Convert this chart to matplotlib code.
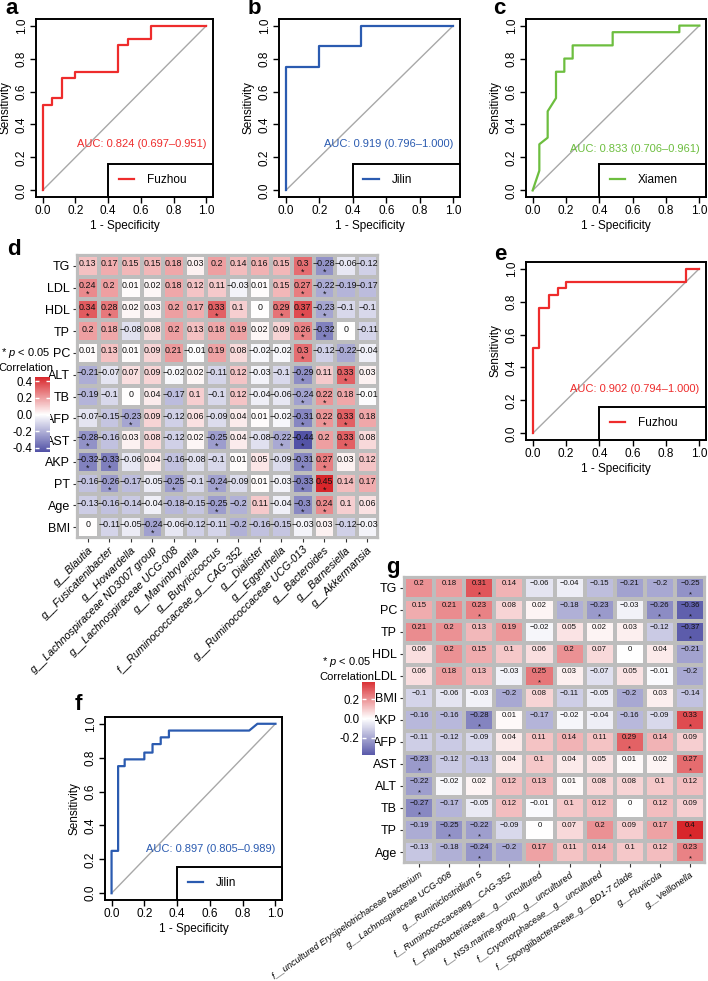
import numpy as np
import matplotlib
matplotlib.use('Agg')
import matplotlib.pyplot as plt
from matplotlib.colors import LinearSegmentedColormap, Normalize
from matplotlib.cm import ScalarMappable

plt.rcParams['font.family'] = ['Liberation Sans', 'DejaVu Sans']
plt.rcParams['mathtext.fontset'] = 'custom'
plt.rcParams['mathtext.it'] = 'Liberation Sans:italic'
plt.rcParams['mathtext.rm'] = 'Liberation Sans'

# ROC curves (1 - specificity, sensitivity)
fz_train_fpr = [0, 0, 0.06, 0.06, 0.12, 0.12, 0.2, 0.2, 0.46, 0.46, 0.52, 0.52, 0.66, 0.66, 1]
fz_train_tpr = [0, 0.52, 0.52, 0.56, 0.56, 0.68, 0.68, 0.72, 0.72, 0.88, 0.88, 0.92, 0.92, 1, 1]
jl_train_fpr = [0, 0, 0.2, 0.2, 0.45, 0.45, 1]
jl_train_tpr = [0, 0.75, 0.75, 0.875, 0.875, 1, 1]
xm_fpr = [0, 0.04, 0.04, 0.09, 0.09, 0.14, 0.14, 0.19, 0.19, 0.24, 0.24, 0.48, 0.48, 0.88, 0.88, 1]
xm_tpr = [0, 0.12, 0.28, 0.32, 0.48, 0.56, 0.72, 0.72, 0.8, 0.8, 0.88, 0.88, 0.96, 0.96, 1, 1]
fz_fpr = [0, 0, 0.04, 0.04, 0.1, 0.1, 0.15, 0.15, 0.2, 0.2, 0.92, 0.92, 1]
fz_tpr = [0, 0.52, 0.52, 0.76, 0.76, 0.84, 0.84, 0.88, 0.88, 0.92, 0.92, 1, 1]
jl_fpr = [0, 0, 0.04, 0.04, 0.08, 0.08, 0.2, 0.2, 0.25, 0.25, 0.3, 0.3, 0.35, 0.35, 0.84, 0.89, 1]
jl_tpr = [0, 0.25, 0.25, 0.75, 0.75, 0.79, 0.79, 0.83, 0.83, 0.88, 0.88, 0.92, 0.92, 0.96, 0.96, 1, 1]

# heatmap d
d_rows = ['TG', 'LDL', 'HDL', 'TP', 'PC', 'ALT', 'TB', 'AFP', 'AST', 'AKP', 'PT', 'Age', 'BMI']
d_cols = ['g__Blautia', 'g__Fusicatenibacter', 'g__Howardella', 'g__Lachnospiraceae ND3007 group',
          'g__Lachnospiraceae UCG-008', 'g__Marvinbryantia', 'g__Butyricicoccus',
          'f__Ruminococcaceae_g__CAG-352', 'g__Dialister', 'g__Eggerthella',
          'g__Ruminococcaceae UCG-013', 'g__Bacteroides', 'g__Barnesiella', 'g__Akkermansia']
d_vals = [
    [0.13, 0.17, 0.15, 0.15, 0.18, 0.03, 0.2, 0.14, 0.16, 0.15, 0.3, -0.28, -0.06, -0.12],
    [0.24, 0.2, 0.01, 0.02, 0.18, 0.12, 0.11, -0.03, 0.01, 0.15, 0.27, -0.22, -0.19, -0.17],
    [0.34, 0.28, 0.02, 0.03, 0.2, 0.17, 0.33, 0.1, 0, 0.29, 0.37, -0.23, -0.1, -0.1],
    [0.2, 0.18, -0.08, 0.08, 0.2, 0.13, 0.18, 0.19, 0.02, 0.09, 0.26, -0.32, 0, -0.11],
    [0.01, 0.13, 0.01, 0.09, 0.21, -0.01, 0.19, 0.08, -0.02, -0.02, 0.3, -0.12, -0.22, -0.04],
    [-0.21, -0.07, 0.07, 0.09, -0.02, 0.02, -0.11, 0.12, -0.03, -0.1, -0.29, 0.11, 0.33, 0.03],
    [-0.19, -0.1, 0, 0.04, -0.17, 0.1, -0.1, 0.12, -0.04, -0.06, -0.24, 0.22, 0.18, -0.01],
    [-0.07, -0.15, -0.23, 0.09, -0.12, 0.06, -0.09, 0.04, 0.01, -0.02, -0.31, 0.22, 0.33, 0.18],
    [-0.28, -0.16, 0.03, 0.08, -0.12, 0.02, -0.25, 0.04, -0.08, -0.22, -0.44, 0.2, 0.33, 0.08],
    [-0.32, -0.33, -0.06, 0.04, -0.16, -0.08, -0.1, 0.01, 0.05, -0.09, -0.31, 0.27, 0.03, 0.12],
    [-0.16, -0.26, -0.17, -0.05, -0.25, -0.1, -0.24, -0.09, 0.01, -0.03, -0.33, 0.45, 0.14, 0.17],
    [-0.13, -0.16, -0.14, -0.04, -0.18, -0.15, -0.25, -0.2, 0.11, -0.04, -0.3, 0.24, 0.1, 0.06],
    [0, -0.11, -0.05, -0.24, -0.06, -0.12, -0.11, -0.2, -0.16, -0.15, -0.03, 0.03, -0.12, -0.03],
]
d_stars = [[10, 11], [0, 10, 11], [0, 1, 6, 9, 10, 11], [10, 11], [10], [10, 12], [10, 11],
           [2, 10, 11, 12], [0, 6, 9, 10, 12], [0, 1, 10, 11], [1, 4, 6, 10, 11], [6, 10, 11], [3]]

# heatmap g
g_rows = ['TG', 'PC', 'TP', 'HDL', 'LDL', 'BMI', 'AKP', 'AFP', 'AST', 'ALT', 'TB', 'TP', 'Age']
g_cols = ['f__uncultured Erysipelotrichaceae bacterium', 'g__Lachnospiraceae UCG-008',
          'g__Ruminiclostridium 5', 'f__Ruminococcaceaeg__CAG-352',
          'f__Flavobacteriaceae__g__uncultured', 'f__NS9.marine.group__g__uncultured',
          'f__Cryomorphaceae__g__uncultured', 'f__Spongiibacteraceae_g__BD1-7 clade',
          'g__Fluviicola', 'g__Veillonella']
g_vals = [
    [0.2, 0.18, 0.31, 0.14, -0.06, -0.04, -0.15, -0.21, -0.2, -0.25],
    [0.15, 0.21, 0.23, 0.08, 0.02, -0.18, -0.23, -0.03, -0.26, -0.36],
    [0.21, 0.2, 0.13, 0.19, -0.02, 0.05, 0.02, 0.03, -0.12, -0.37],
    [0.06, 0.2, 0.15, 0.1, 0.06, 0.2, 0.07, 0, 0.04, -0.21],
    [0.06, 0.18, 0.13, -0.03, 0.25, 0.03, -0.07, 0.05, -0.01, -0.2],
    [-0.1, -0.06, -0.03, -0.2, 0.08, -0.11, -0.05, -0.2, 0.03, -0.14],
    [-0.16, -0.16, -0.28, 0.01, -0.17, -0.02, -0.04, -0.16, -0.09, 0.33],
    [-0.11, -0.12, -0.09, 0.04, 0.11, 0.14, 0.11, 0.29, 0.14, 0.09],
    [-0.23, -0.12, -0.13, 0.04, 0.1, 0.04, 0.05, 0.01, 0.02, 0.27],
    [-0.22, -0.02, 0.02, 0.12, 0.13, 0.01, 0.08, 0.08, 0.1, 0.12],
    [-0.27, -0.17, -0.05, 0.12, -0.01, 0.1, 0.12, 0, 0.12, 0.09],
    [-0.19, -0.25, -0.22, -0.09, 0, 0.07, 0.2, 0.09, 0.17, 0.4],
    [-0.13, -0.18, -0.24, -0.2, 0.17, 0.11, 0.14, 0.1, 0.12, 0.23],
]
g_stars = [[2, 9], [2, 6, 8, 9], [9], [], [4], [], [2, 9], [7], [0, 9], [0], [0], [1, 2, 9], [2, 9]]

W, H = 708, 981
fig = plt.figure(figsize=(W / 100, H / 100), dpi=100)
cmap = LinearSegmentedColormap.from_list('rwb', ['#5050A5', '#FFFFFF', '#D8262B'])


def rect(x0, y0, x1, y1):
    return [x0 / W, 1 - y1 / H, (x1 - x0) / W, (y1 - y0) / H]


def roc_panel(box, fpr, tpr, color, name, auc_txt, auc_y):
    ax = fig.add_axes(rect(*box))
    ax.plot([0, 1], [0, 1], color='#A8A8A8', lw=1)
    line, = ax.plot(fpr, tpr, color=color, lw=1.6)
    ax.set_xlim(-0.04, 1.04)
    ax.set_ylim(-0.04, 1.04)
    ticks = [0, 0.2, 0.4, 0.6, 0.8, 1.0]
    ax.set_xticks(ticks)
    ax.set_yticks(ticks)
    ax.set_xticklabels(['%.1f' % t for t in ticks])
    ax.set_yticklabels(['%.1f' % t for t in ticks], rotation=90, va='center')
    ax.tick_params(direction='out', length=4, width=1, labelsize=8.5, pad=2)
    for s in ax.spines.values():
        s.set_linewidth(1.4)
    ax.set_xlabel('1 - Specificity', fontsize=8.5, labelpad=2)
    ax.set_ylabel('Sensitivity', fontsize=8.5, labelpad=3)
    ax.text(1.0, auc_y, auc_txt, color=color, ha='right', va='center', fontsize=8)
    leg = ax.legend([line], [name], loc='lower left', bbox_to_anchor=(0.407, 0, 0.593, 0.2),
                    mode='expand', borderaxespad=0, fancybox=False, edgecolor='black',
                    framealpha=1, fontsize=8.5, borderpad=0.9, handlelength=1.3,
                    handletextpad=1.1)
    leg.get_frame().set_linewidth(1.4)
    return ax


def fmt(v):
    return ('%g' % v).replace('-', '\u2212')


def heat_panel(box, vals, stars, rows, cols, vmax, fs, rot, lab_fs, ty):
    ax = fig.add_axes(rect(*box))
    arr = np.array(vals)
    nr, nc = arr.shape
    ax.pcolormesh(np.arange(nc + 1), np.arange(nr + 1), arr, cmap=cmap, vmin=-vmax, vmax=vmax,
                  edgecolors='#BDBDBD', linewidth=1.6)
    ax.set_xlim(0, nc)
    ax.set_ylim(nr, 0)
    for i in range(nr):
        for j in range(nc):
            ax.text(j + 0.5, i + ty, fmt(arr[i, j]), ha='center', va='center', fontsize=fs,
                    color='#111111')
            if j in stars[i]:
                ax.text(j + 0.5, i + 0.8, '*', ha='center', va='center', fontsize=fs,
                        color='#111111')
    ax.set_yticks(np.arange(nr) + 0.5)
    ax.set_yticklabels(rows, fontsize=9)
    ax.set_xticks(np.arange(nc) + 0.5)
    ax.set_xticklabels(cols, rotation=rot, ha='right', rotation_mode='anchor', style='italic',
                       fontsize=lab_fs)
    ax.tick_params(length=3, color='#333333', pad=2)
    for s in ax.spines.values():
        s.set_color('#BDBDBD')
        s.set_linewidth(1.6)
    return ax


def colorbar(box, vmax, lim, ticks, title_x, title_y):
    cax = fig.add_axes(rect(*box))
    cb = fig.colorbar(ScalarMappable(norm=Normalize(-vmax, vmax), cmap=cmap), cax=cax)
    cb.outline.set_visible(False)
    cax.set_ylim(-lim, lim)
    cax.yaxis.set_ticks_position('both')
    cax.set_yticks(ticks)
    cax.set_yticklabels(['%.1f' % t if t != 0 else '0.0' for t in ticks])
    cax.yaxis.set_tick_params(labelleft=True, labelright=False)
    cax.tick_params(color='white', direction='in', length=3, width=1, labelsize=8.3, pad=2)
    fig.text(title_x / W, 1 - title_y / H, '* $p$ < 0.05', ha='center', va='center', fontsize=8)
    fig.text(title_x / W, 1 - (title_y + 15) / H, 'Correlation', ha='center', va='center',
             fontsize=8)


roc_panel((36, 19, 213, 197), fz_train_fpr, fz_train_tpr, '#EE2C2C', 'Fuzhou',
          'AUC: 0.824 (0.697\u20130.951)', 0.28)
roc_panel((279, 19, 460, 197), jl_train_fpr, jl_train_tpr, '#2B5BB0', 'Jilin',
          'AUC: 0.919 (0.796\u20131.000)', 0.28)
roc_panel((526, 19, 706, 197), xm_fpr, xm_tpr, '#6DBE3F', 'Xiamen',
          'AUC: 0.833 (0.706\u20130.961)', 0.25)
roc_panel((526, 262, 706, 440), fz_fpr, fz_tpr, '#EE2C2C', 'Fuzhou',
          'AUC: 0.902 (0.794\u20131.000)', 0.27)
roc_panel((105, 717, 282, 900), jl_fpr, jl_tpr, '#2B5BB0', 'Jilin',
          'AUC: 0.897 (0.805\u20130.989)', 0.26)

heat_panel((77, 255, 378, 538), d_vals, d_stars, d_rows, d_cols, 0.45, 6.4, 45, 7.8, 0.4)
heat_panel((404, 577, 705, 863), g_vals, g_stars, g_rows, g_cols, 0.40, 5.6, 35, 6.6, 0.3)

colorbar((35, 377, 50, 452), 0.45, 0.45, [0.4, 0.2, 0, -0.2, -0.4], 26, 353)
colorbar((362, 682, 375, 755), 0.40, 0.38, [0.2, 0, -0.2], 347, 662)

for lab, x, y in [('a', 12, 9), ('b', 254, 9), ('c', 499, 9), ('d', 14, 250),
                  ('e', 500, 255), ('f', 78, 705), ('g', 393, 568)]:
    fig.text(x / W, 1 - y / H, lab, fontsize=16, fontweight='bold', ha='center', va='center')

fig.savefig('out.png', dpi=100)
